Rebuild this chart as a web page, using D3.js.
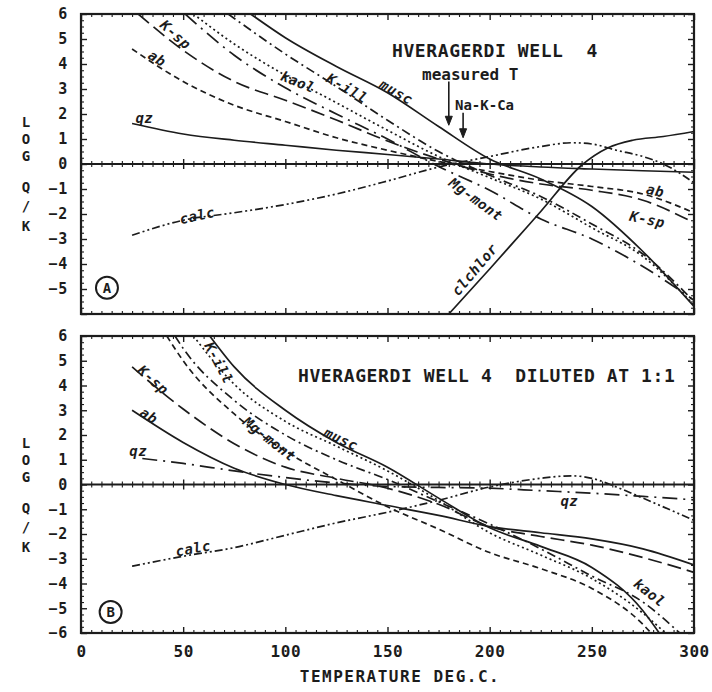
<!DOCTYPE html>
<html>
<head>
<meta charset="utf-8">
<script src="https://cdn.jsdelivr.net/npm/d3@7"></script>
<style>
  body { margin: 0; background: #fff; }
  svg { display: block; }
  text { font-family: 'DejaVu Sans Mono', 'Liberation Mono', monospace; font-weight: bold; fill: #1c1c1c; }
</style>
</head>
<body>
<svg id="chart" width="712" height="692"></svg>
<script>
// ---- Axis ticks ---------------------------------------------------------
const tempTicks = [0, 50, 100, 150, 200, 250, 300];
const logTicksA = [6, 5, 4, 3, 2, 1, 0, -1, -2, -3, -4, -5];
const logTicksB = [6, 5, 4, 3, 2, 1, 0, -1, -2, -3, -4, -5, -6];

// ---- Panel A: Hveragerdi well 4, log(Q/K) vs temperature [T degC, logQ/K] --
const wellQz     = [[25,1.62],[50,1.2],[75,0.95],[100,0.75],[125,0.55],[150,0.38],[175,0.2],[200,0.0],[225,-0.12],[250,-0.2],[275,-0.27],[300,-0.33]];
const wellAb     = [[25,4.6],[50,3.3],[75,2.35],[100,1.7],[125,1.05],[150,0.55],[175,0.1],[200,-0.3],[225,-0.65],[250,-0.9],[275,-1.2],[300,-1.95]];
const wellKsp    = [[28,6],[50,4.55],[75,3.3],[100,2.55],[125,1.76],[150,0.92],[175,0.2],[200,-0.4],[225,-0.8],[250,-1.05],[275,-1.45],[300,-2.35]];
const wellMgMont = [[51,6],[75,4.35],[100,3.05],[125,2.0],[150,1.0],[175,-0.1],[200,-1.05],[225,-2.2],[250,-3.0],[275,-4.1],[300,-5.45]];
const wellKaol   = [[55,6],[75,4.8],[100,3.55],[125,2.45],[150,1.35],[175,0.3],[200,-0.55],[225,-1.4],[250,-2.55],[275,-3.7],[300,-5.65]];
const wellKill   = [[72,6],[100,4.4],[125,3.1],[150,1.75],[175,0.5],[200,-0.45],[225,-1.3],[250,-2.4],[275,-3.6],[300,-5.5]];
const wellMusc   = [[83,6],[100,5.05],[125,3.9],[150,2.85],[175,1.5],[200,0.2],[225,-0.6],[250,-1.7],[275,-3.5],[300,-5.7]];
const wellCalc   = [[25,-2.85],[50,-2.25],[75,-1.95],[100,-1.62],[125,-1.2],[150,-0.68],[175,-0.12],[200,0.3],[225,0.7],[240,0.85],[250,0.8],[262,0.55],[275,0.3],[285,0.0],[300,-0.75]];
const wellChlor  = [[180,-6],[200,-4.2],[225,-1.9],[245,-0.05],[258,0.65],[270,0.95],[285,1.1],[300,1.3]];

// Geothermometer temperatures marked with arrows (degC)
const estimateNames = ["measured T", "Na-K-Ca"];
const estimateTemps = [180, 187];

// ---- Panel B: same water diluted 1:1 -----------------------------------
const dilQz     = [[30,1.05],[50,0.85],[75,0.55],[100,0.28],[125,0.06],[150,-0.08],[175,-0.12],[200,-0.15],[225,-0.25],[250,-0.35],[275,-0.48],[300,-0.62]];
const dilAb     = [[25,3.0],[50,1.7],[75,0.66],[100,0.0],[125,-0.45],[150,-0.85],[175,-1.25],[200,-1.7],[225,-1.95],[250,-2.2],[275,-2.6],[300,-3.25]];
const dilKsp    = [[25,4.75],[50,3.05],[75,1.65],[100,0.7],[125,0.25],[150,-0.15],[175,-0.8],[200,-1.7],[225,-2.1],[250,-2.45],[275,-2.95],[300,-3.55]];
const dilMgMont = [[42,6],[50,5.0],[75,2.85],[100,1.35],[125,0.2],[150,-0.9],[175,-1.8],[200,-2.75],[225,-3.4],[250,-4.2],[275,-5.65],[279,-6]];
const dilKaol   = [[46,6],[50,5.5],[75,3.4],[100,2.0],[125,1.0],[150,0.2],[175,-0.7],[200,-1.6],[225,-2.6],[250,-3.7],[275,-4.75],[293,-6]];
const dilKill   = [[55,6],[75,4.05],[100,2.55],[125,1.55],[150,0.55],[175,-0.65],[200,-1.95],[225,-2.85],[250,-3.8],[275,-5.2],[286,-6]];
const dilMusc   = [[63,6],[75,4.75],[100,3.0],[125,1.7],[150,0.7],[175,-0.55],[200,-1.75],[225,-2.5],[250,-3.35],[275,-5.1],[283,-6]];
const dilCalc   = [[25,-3.3],[50,-2.9],[75,-2.55],[100,-2.05],[125,-1.55],[150,-1.12],[175,-0.64],[200,-0.1],[225,0.25],[240,0.35],[250,0.25],[262,-0.1],[275,-0.55],[300,-1.45]];

// ---- Line styles -------------------------------------------------------
const DASH = {
  solid: null,
  short: "6,4",
  long: "14,6",
  dot: "2,3",
  dashDot: "9,4,2,4",
  longDashDot: "15,6,2,6",
  dashDotDot: "8,3,2,3,2,3"
};

const svg = d3.select("#chart");
const ink = "#1c1c1c";
const x = d3.scaleLinear().domain([0, 300]).range([81, 694]);

const panels = [
  {
    key: "A", top: 14, bottom: 314, logTicks: logTicksA, showTempLabels: false,
    title: "HVERAGERDI WELL  4", titleX: 392, titleY: 57,
    badge: [12.7, -4.95],
    series: [
      { data: wellQz,     dash: DASH.solid,       label: "qz",      at: [31, 1.8],    rot: 0 },
      { data: wellAb,     dash: DASH.short,       label: "ab",      at: [37, 4.2],    rot: 32 },
      { data: wellKsp,    dash: DASH.long,        label: "K-sp",    at: [46, 5.15],   rot: 42 },
      { data: wellMgMont, dash: DASH.longDashDot, label: "Mg-mont", at: [193, -1.45], rot: 36 },
      { data: wellKaol,   dash: DASH.dot,         label: "kaol",    at: [106, 3.25],  rot: 22 },
      { data: wellKill,   dash: DASH.dashDot,     label: "K-ill",   at: [130, 3.0],   rot: 30 },
      { data: wellMusc,   dash: DASH.solid,       label: "musc",    at: [154, 2.85],  rot: 30 },
      { data: wellCalc,   dash: DASH.dashDotDot,  label: "calc",    at: [57, -2.1],   rot: -12 },
      { data: wellChlor,  dash: DASH.solid,       label: "clchlor", at: [193, -4.25], rot: -50 },
      { data: null, label: "ab",   at: [281, -1.1],  rot: 12 },
      { data: null, label: "K-sp", at: [277, -2.25], rot: 12 }
    ]
  },
  {
    key: "B", top: 336, bottom: 633, logTicks: logTicksB, showTempLabels: true,
    title: "HVERAGERDI WELL 4  DILUTED AT 1:1", titleX: 298, titleY: 382,
    badge: [14.5, -5.15],
    series: [
      { data: dilQz,     dash: DASH.longDashDot, label: "qz",      at: [28, 1.32],   rot: 0 },
      { data: dilAb,     dash: DASH.solid,       label: "ab",      at: [33, 2.75],   rot: 32 },
      { data: dilKsp,    dash: DASH.long,        label: "K-sp",    at: [35, 4.2],    rot: 42 },
      { data: dilMgMont, dash: DASH.short,       label: "Mg-mont", at: [92, 1.8],    rot: 38 },
      { data: dilKaol,   dash: DASH.dashDot,     label: "kaol",    at: [278, -4.4],  rot: 38 },
      { data: dilKill,   dash: DASH.dot,         label: "K-ill",   at: [67, 4.9],    rot: 62 },
      { data: dilMusc,   dash: DASH.solid,       label: "musc",    at: [127, 1.8],   rot: 25 },
      { data: dilCalc,   dash: DASH.dashDotDot,  label: "calc",    at: [55, -2.62],  rot: -10 },
      { data: null, label: "qz", at: [239, -0.72], rot: 0 }
    ]
  }
];

const line = d3.line().curve(d3.curveMonotoneX);

function styleAxis(g, width) {
  g.select(".domain").remove();
  g.selectAll(".tick line").attr("stroke", ink).attr("stroke-width", width);
}

panels.forEach(p => {
  const y = d3.scaleLinear().domain([-6, 6]).range([p.bottom, p.top]);
  const g = svg.append("g");
  line.x(d => x(d[0])).y(d => y(d[1]));

  const clipId = "clip" + p.key;
  svg.append("clipPath").attr("id", clipId).append("rect")
    .attr("x", x(0)).attr("y", y(6))
    .attr("width", x(300) - x(0)).attr("height", y(-6) - y(6));

  const majorT = d3.range(0, 301, 50);
  const minorT = d3.range(0, 301, 5).filter(d => d % 50 !== 0);
  const majorL = d3.range(-6, 7, 1);
  const minorL = d3.range(-24, 25).map(d => d / 4).filter(d => d % 1 !== 0);

  // left axis: labels + inward ticks
  const left = g.append("g").attr("transform", `translate(${x(0)},0)`)
    .call(d3.axisLeft(y).tickValues(majorL).tickSizeInner(-6).tickSizeOuter(0).tickPadding(13)
      .tickFormat(d => p.logTicks.includes(d) ? d3.format("d")(d) : ""));
  styleAxis(left, 1.4);
  left.selectAll("text").attr("font-size", 15).attr("letter-spacing", 0.8).attr("fill", ink);
  styleAxis(g.append("g").attr("transform", `translate(${x(0)},0)`)
    .call(d3.axisLeft(y).tickValues(minorL).tickSize(-3).tickFormat("")), 1.1);

  // right axis
  styleAxis(g.append("g").attr("transform", `translate(${x(300)},0)`)
    .call(d3.axisRight(y).tickValues(majorL).tickSize(-6).tickFormat("")), 1.4);
  styleAxis(g.append("g").attr("transform", `translate(${x(300)},0)`)
    .call(d3.axisRight(y).tickValues(minorL).tickSize(-3).tickFormat("")), 1.1);

  // top axis
  styleAxis(g.append("g").attr("transform", `translate(0,${y(6)})`)
    .call(d3.axisTop(x).tickValues(majorT).tickSize(-6).tickFormat("")), 1.4);
  styleAxis(g.append("g").attr("transform", `translate(0,${y(6)})`)
    .call(d3.axisTop(x).tickValues(minorT).tickSize(-3).tickFormat("")), 1.1);

  // bottom axis
  const bottom = g.append("g").attr("transform", `translate(0,${y(-6)})`)
    .call(d3.axisBottom(x).tickValues(majorT).tickSizeInner(-6).tickSizeOuter(0).tickPadding(13)
      .tickFormat(d => p.showTempLabels && tempTicks.includes(d) ? d : ""));
  styleAxis(bottom, 1.4);
  bottom.selectAll("text").attr("font-size", 16).attr("letter-spacing", 0.6).attr("fill", ink);
  styleAxis(g.append("g").attr("transform", `translate(0,${y(-6)})`)
    .call(d3.axisBottom(x).tickValues(minorT).tickSize(-3).tickFormat("")), 1.1);

  // zero line with crossing ticks
  g.append("line").attr("x1", x(0)).attr("x2", x(300)).attr("y1", y(0)).attr("y2", y(0))
    .attr("stroke", ink).attr("stroke-width", 2);
  [d3.axisBottom, d3.axisTop].forEach(ax => {
    styleAxis(g.append("g").attr("transform", `translate(0,${y(0)})`)
      .call(ax(x).tickValues(majorT).tickSize(5).tickFormat("")), 1.4);
    styleAxis(g.append("g").attr("transform", `translate(0,${y(0)})`)
      .call(ax(x).tickValues(minorT).tickSize(3).tickFormat("")), 1.1);
  });

  // frame
  g.append("rect").attr("x", x(0)).attr("y", y(6))
    .attr("width", x(300) - x(0)).attr("height", y(-6) - y(6))
    .attr("fill", "none").attr("stroke", ink).attr("stroke-width", 2.2);

  // curves
  const curves = g.append("g").attr("clip-path", `url(#${clipId})`);
  p.series.filter(s => s.data).forEach(s => {
    curves.append("path").attr("d", line(s.data))
      .attr("fill", "none").attr("stroke", ink).attr("stroke-width", 1.7)
      .attr("stroke-dasharray", s.dash);
  });

  // curve labels
  p.series.forEach(s => {
    g.append("text")
      .attr("transform", `translate(${x(s.at[0])},${y(s.at[1])}) rotate(${s.rot})`)
      .attr("text-anchor", "middle").attr("dominant-baseline", "middle")
      .attr("font-size", 14).attr("font-style", "italic").attr("letter-spacing", 0.5)
      .text(s.label);
  });

  // panel title
  g.append("text").attr("x", p.titleX).attr("y", p.titleY)
    .attr("xml:space", "preserve").style("white-space", "pre")
    .attr("font-size", 18).attr("letter-spacing", 0.6)
    .text(p.title);

  // circled panel letter
  g.append("circle").attr("cx", x(p.badge[0])).attr("cy", y(p.badge[1])).attr("r", 11)
    .attr("fill", "none").attr("stroke", ink).attr("stroke-width", 2);
  g.append("text").attr("x", x(p.badge[0])).attr("y", y(p.badge[1]) + 5)
    .attr("text-anchor", "middle").attr("font-size", 14).text(p.key);

  // stacked y-axis title
  const yLetters = [["L", -42], ["O", -25], ["G", -8], ["Q", 23], ["/", 42], ["K", 62]];
  yLetters.forEach(([ch, off]) => {
    g.append("text").attr("x", 26).attr("y", y(0) + off + 5)
      .attr("text-anchor", "middle").attr("font-size", 14).text(ch);
  });

  // geothermometer arrows (panel A only)
  if (p.key === "A") {
    const spans = [[3.3, 1.55], [2.05, 1.05]];
    estimateTemps.forEach((t, i) => {
      const xa = x(t), y0 = y(spans[i][0]), y1 = y(spans[i][1]);
      g.append("line").attr("x1", xa).attr("x2", xa).attr("y1", y0).attr("y2", y1 - 6)
        .attr("stroke", ink).attr("stroke-width", 1.6);
      g.append("path").attr("d", `M${xa - 3.5},${y1 - 9} L${xa},${y1} L${xa + 3.5},${y1 - 9} Z`)
        .attr("fill", ink).attr("stroke", ink).attr("stroke-width", 1);
    });
    g.append("text").attr("x", 422).attr("y", 80).attr("font-size", 16).text(estimateNames[0]);
    g.append("text").attr("x", 455).attr("y", 110).attr("font-size", 14).text(estimateNames[1]);
  }
});

// x-axis title
svg.append("text").attr("x", 400).attr("y", 682).attr("text-anchor", "middle")
  .attr("font-size", 16).attr("letter-spacing", 1.5).text("TEMPERATURE DEG.C.");
</script>
</body>
</html>
